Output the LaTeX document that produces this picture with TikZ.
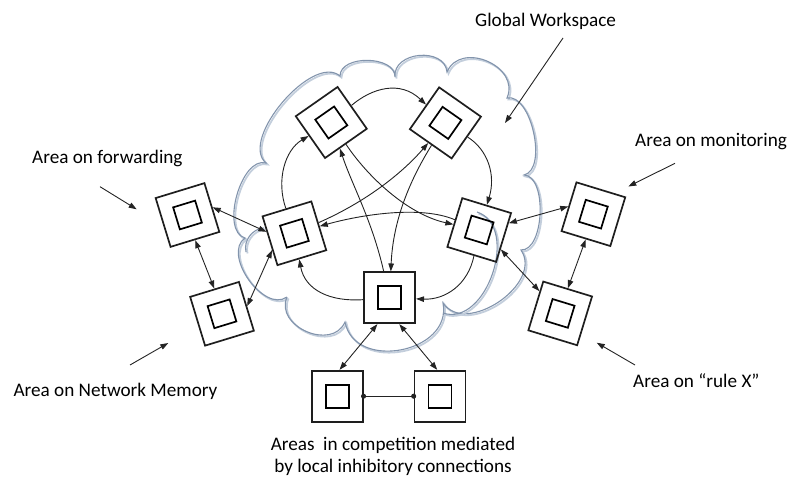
\documentclass[tikz,border=0pt]{standalone}
\usepackage{fontspec}
\setmainfont{Carlito}
\usetikzlibrary{arrows.meta}
\definecolor{boxc}{RGB}{30,30,30}
\definecolor{linec}{RGB}{35,35,35}
\definecolor{cloudc}{RGB}{130,148,172}
\definecolor{cloudl}{RGB}{195,206,220}
\newcommand\areabox[4]{\node[outerbox,rotate=#4] (#1) at (#2,#3) {};\node[innerbox,rotate=#4] (#1in) at (#1) {};}
\newcommand\cloudpath{(287,297) to[bend left=90,looseness=1.0] (245,238) to[bend left=90,looseness=0.85] (266,163) to[bend left=90,looseness=0.8] (340,76) to[bend left=90,looseness=1.0] (395,77) to[bend left=90,looseness=1.25] (447,72) to[bend left=90,looseness=1.35] (507,98) to[bend left=90,looseness=0.8] (524,175) to[bend left=90,looseness=0.8] (521,250) to[bend left=90,looseness=1.1] (443,303) to[bend left=90,looseness=1.3] (345,322) to[bend left=90,looseness=1.3] (287,297)}
\begin{document}
\begin{tikzpicture}[x=1pt,y=-1pt,
  outerbox/.style={draw=boxc, line width=1.7pt, minimum size=51pt, inner sep=0pt},
  innerbox/.style={draw=black, line width=1.7pt, minimum size=23pt, inner sep=0pt},
  conn/.style={draw=linec, line width=0.9pt, -{Triangle[length=8pt,width=5.5pt]}},
  dconn/.style={draw=linec, line width=0.9pt, {Triangle[length=8pt,width=5.5pt]}-{Triangle[length=8pt,width=5.5pt]}},
  inhib/.style={draw=linec, line width=0.9pt, {Circle[length=5pt]}-{Circle[length=5pt]}, shorten <=-2.5pt, shorten >=-2.5pt},
  lbl/.style={font=\fontsize{19.2}{23}\selectfont, inner sep=0pt, anchor=base west},
  cloudstroke/.style={draw=cloudc, line width=1.1pt},
  cloudshadow/.style={draw=cloudl, line width=1.8pt}]
\useasboundingbox (0,0) rectangle (790,478);
% cloud
\draw[cloudshadow, shift={(1.5,1.5)}] \cloudpath;
\draw[cloudstroke] \cloudpath;
\draw[cloudshadow, shift={(1.5,1.5)}] (477,212) to[bend left=90,looseness=1.1] (443,313);
\draw[cloudstroke] (477,212) to[bend left=90,looseness=1.1] (443,313);
\draw[cloudshadow, shift={(1.5,1.5)}] (246,252) to[bend left=50] (264,228);
\draw[cloudstroke] (246,252) to[bend left=50] (264,228);
% areas
\areabox{t1}{331.3}{122.5}{35}
\areabox{t2}{445.4}{122.9}{-35}
\areabox{l}{294.4}{233.3}{17}
\areabox{r}{479.2}{230}{-17}
\areabox{b}{389.7}{297.8}{0}
\areabox{fw}{187.5}{215}{17}
\areabox{nm}{222}{313.8}{17}
\areabox{mo}{593.4}{214.2}{-17}
\areabox{rx}{560.2}{313.4}{-17}
\areabox{ca}{337.2}{396.2}{0}
\areabox{cb}{440}{396.2}{0}
% workspace connections
\draw[conn] (t1) .. controls (372,88) and (400,80) .. (t2);
\draw[conn] (t2) .. controls (488,150) and (496,175) .. (r);
\draw[conn] (l) .. controls (276,180) and (285,150) .. (t1);
\draw[conn] (l) .. controls (370,200) and (405,170) .. (t2);
\draw[conn] (r) .. controls (420,205) and (360,215) .. (l);
\draw[conn] (t1) .. controls (370,180) and (410,215) .. (r);
\draw[conn] (b) .. controls (372,220) and (352,185) .. (t1);
\draw[conn] (t2) .. controls (410,180) and (393,220) .. (b);
\draw[conn] (b) .. controls (330,302) and (305,290) .. (l);
\draw[conn] (r) .. controls (468,285) and (445,300) .. (b);
% bidirectional links
\draw[dconn] (fw.east) -- (l.160);
\draw[dconn] (fw.south) -- (nm.north);
\draw[dconn] (nm.east) -- (l.200);
\draw[dconn] (r.30) -- (mo.west);
\draw[dconn] (mo.south) -- (rx.north);
\draw[dconn] (r.-25) -- (rx.150);
\draw[dconn] (b.-115) -- (ca.85);
\draw[dconn] (b.-70) -- (cb.96);
\draw[inhib] (ca.east) -- (cb.west);
% labels
\node[lbl] (gwlbl) at (475,26.7) {Global Workspace};
\node[lbl] (fwlbl) at (32,163.3) {Area on forwarding};
\node[lbl] (molbl) at (635,146.7) {Area on monitoring};
\node[lbl] (nmlbl) at (13.3,396) {Area on Network Memory};
\node[lbl] (rxlbl) at (633,388) {Area on “rule X”};
\node[lbl, anchor=base] (cplbl) at (393,450) {Areas\ \ in competition mediated};
\node[lbl, anchor=base] (cplbl2) at (393,472) {by local inhibitory connections};
% label pointers
\coordinate (gwt) at (563,38); \coordinate (gwh) at (505,123);
\coordinate (fwt) at (100,186.7); \coordinate (fwh) at (136.7,209.3);
\coordinate (mot) at (675,163.3); \coordinate (moh) at (628.3,186.5);
\coordinate (nmt) at (130,365); \coordinate (nmh) at (168.3,343);
\coordinate (rxt) at (635,365); \coordinate (rxh) at (596.7,342.7);
\draw[conn] (gwt) -- (gwh);
\draw[conn] (fwt) -- (fwh);
\draw[conn] (mot) -- (moh);
\draw[conn] (nmt) -- (nmh);
\draw[conn] (rxt) -- (rxh);
\end{tikzpicture}
\end{document}
